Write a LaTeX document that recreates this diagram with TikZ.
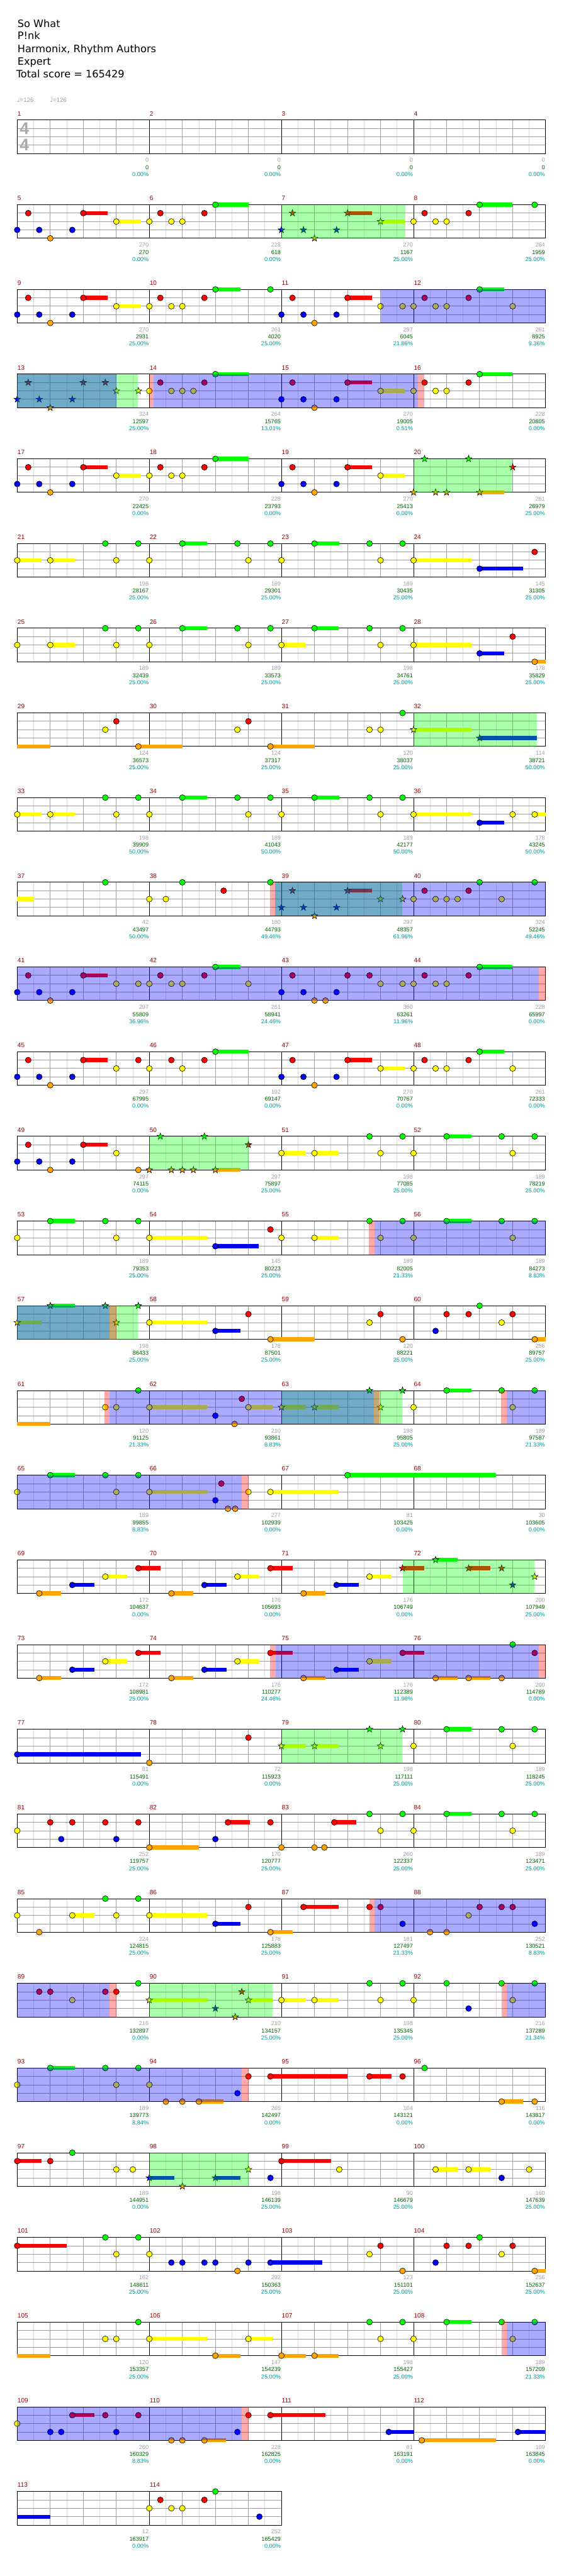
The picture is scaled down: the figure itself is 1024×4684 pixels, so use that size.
\documentclass[tikz,border=0pt]{standalone}
\usepackage{fontspec}
\setmainfont{DejaVu Sans}
\newfontfamily\numf{Liberation Sans}
\definecolor{c0}{RGB}{0,255,0}
\definecolor{c1}{RGB}{255,0,0}
\definecolor{c2}{RGB}{255,255,0}
\definecolor{c3}{RGB}{0,0,255}
\definecolor{c4}{RGB}{255,165,0}
\definecolor{griddark}{RGB}{160,160,160}
\definecolor{gridlight}{RGB}{221,221,221}
\definecolor{mnumcol}{RGB}{153,0,0}
\definecolor{sgray}{RGB}{160,160,160}
\definecolor{sgreen}{RGB}{0,100,0}
\definecolor{scyan}{RGB}{0,153,153}
\definecolor{tsgray}{RGB}{170,170,170}
\tikzset{
  nstroke/.style={draw=black,line width=0.7pt},
  gridd/.style={draw=griddark,line width=1pt},
  gridl/.style={draw=gridlight,line width=1pt},
  barline/.style={draw=black,line width=1pt},
  mnumst/.style={font=\numf\fontsize{11.5}{13}\selectfont,text=mnumcol,inner sep=0pt,anchor=base west},
  sgst/.style={font=\numf\fontsize{10.5}{12}\selectfont,inner sep=0pt,anchor=base east},
  titlest/.style={font=\fontsize{18.5}{22}\selectfont,inner sep=0pt,anchor=base west},
  tempost/.style={font=\numf\fontsize{11}{13}\selectfont,text=sgray,inner sep=0pt,anchor=base west},
  tsst/.style={font=\numf\bfseries\fontsize{30.5}{32}\selectfont,text=tsgray,inner sep=0pt},
  ovl/.style={fill opacity=0.333}
}
\newcommand\Setm[1]{\pgfmathtruncatemacro\mc{mod(#1-1,4)}\pgfmathtruncatemacro\mr{(#1-1)/4}\pgfmathsetmacro\mx{31.3+240*\mc}\pgfmathsetmacro\my{218.3+154*\mr}}
\newcommand\Nt[2]{\draw[nstroke,fill=c#2] ({\mx+60*#1},{\my+15.25*#2}) circle[radius=5.3];}
\newcommand\St[2]{\draw[nstroke,fill=c#2,shift={({\mx+60*#1},{\my+15.25*#2})}] (270:6.3) -- (306:2.5) -- (342:6.3) -- (18:2.5) -- (54:6.3) -- (90:2.5) -- (126:6.3) -- (162:2.5) -- (198:6.3) -- (234:2.5) -- cycle;}
\newcommand\Su[3]{\fill[c#2] ({\mx+60*#1},{\my+15.25*#2-3.6}) rectangle ({\mx+60*#3},{\my+15.25*#2+3.6});}
\newcommand\Ms[2]{\Setm{#1}#2}
\newcommand\Ov[4]{\Setm{#2}\fill[#1,ovl] ({\mx+60*#3},\my) rectangle ({\mx+60*#4},{\my+61});}
\newcommand\Sco[4]{\Setm{#1}%
  \node[mnumst] (mn#1) at ({\mx+0.5},{\my-7.6}) {#1};%
  \node[sgst,text=sgray] (sa#1) at ({\mx+239},{\my+76.7}) {#2};%
  \node[sgst,text=sgreen] (sb#1) at ({\mx+239},{\my+89.7}) {#3};%
  \node[sgst,text=scyan] (sc#1) at ({\mx+239},{\my+102.6}) {#4\%};}
\newcommand\Rowgrid[2]{%
  \pgfmathsetmacro\ry{218.3+154*#1}%
  \pgfmathsetmacro\rx{31.3+240*#2}%
  \pgfmathtruncatemacro\nb{4*#2}%
  \pgfmathtruncatemacro\nm{#2}%
  \foreach \k in {1,...,\nb}{\draw[gridl] ({31.3+60*\k-30},\ry) -- ++(0,61);}%
  \foreach \j in {1,2,3}{\draw[gridd] (31.3,{\ry+15.25*\j}) -- (\rx,{\ry+15.25*\j});}%
  \foreach \k in {1,...,\nb}{\draw[gridd] ({31.3+60*\k},\ry) -- ++(0,61);}%
  \foreach \k in {1,...,\nm}{\draw[barline] ({31.3+240*\k},\ry) -- ++(0,61);}%
  \draw[barline] (31.3,\ry) rectangle (\rx,{\ry+61});}
% patterns
\newcommand\PatA{\Su{2}{1}{2.74}\Su{3}{2}{3.74}\Nt{0}{3}\Nt{.333}{1}\Nt{.667}{3}\Nt{1}{4}\Nt{1.667}{3}\Nt{2}{1}\Nt{3}{2}}
\newcommand\PatB{\Su{2}{0}{3}\Nt{0}{2}\Nt{.333}{1}\Nt{.667}{2}\Nt{1}{2}\Nt{1.667}{1}\Nt{2}{0}}
\newcommand\PatBB{\Su{2}{0}{2.75}\Nt{0}{2}\Nt{.333}{1}\Nt{.667}{2}\Nt{1}{2}\Nt{1.667}{1}\Nt{2}{0}\Nt{3}{2}}
\newcommand\PatC{\Su{1}{0}{1.75}\Nt{0}{2}\Nt{1}{0}\Nt{2.667}{0}\Nt{3}{2}\Nt{3.667}{0}}
\newcommand\PatD{\Su{0}{2}{.74}\Su{1}{2}{1.74}\Nt{0}{2}\Nt{1}{2}\Nt{2.667}{0}\Nt{3}{2}\Nt{3.667}{0}}
\newcommand\PatF{\Su{1}{2}{1.74}\Nt{0}{2}\Nt{1}{2}\Nt{2.667}{0}\Nt{3}{2}\Nt{3.667}{0}}
\newcommand\PatT{\Su{.667}{4}{1.333}\Su{1.667}{3}{2.333}\Su{2.667}{2}{3.333}\Su{3.667}{1}{4.333}\Nt{.667}{4}\Nt{1.667}{3}\Nt{2.667}{2}\Nt{3.667}{1}}
\begin{document}
\begin{tikzpicture}[x=1pt,y=-1pt]
\useasboundingbox (0,0) rectangle (1024,4684);
\fill[white] (0,0) rectangle (1024,4684);
% header
\node[titlest] (t1) at (31.7,49.3) {So What};
\node[titlest] (t2) at (31.7,72) {P!nk};
\node[titlest] (t3) at (31.7,95.6) {Harmonix, Rhythm Authors};
\node[titlest] (t4) at (31.7,118) {Expert};
\node[titlest] (t5) at (29.3,141.6) {Total score = 165429};
\node[tempost] (tp1) at (30.5,185.3) {{\fontspec{DejaVu Sans}\fontsize{12}{13}\selectfont ♩}=126};
\node[tempost] (tp2) at (90.5,185.3) {{\fontspec{DejaVu Sans}\fontsize{12}{13}\selectfont ♩}=126};
% grids
\foreach \r in {0,...,27}{\Rowgrid{\r}{4}}
\Rowgrid{28}{2}
\node[tsst] (ts1) at (44.3,233.8) {4};
\node[tsst] (ts2) at (44.3,263.3) {4};
% notes
\Ms{5}{\PatA}
\Ms{6}{\PatB}
\Ms{7}{\Su{2}{1}{2.74}\Su{3}{2}{3.74}\St{0}{3}\St{.333}{1}\St{.667}{3}\St{1}{4}\St{1.667}{3}\St{2}{1}\St{3}{2}}
\Ms{8}{\PatB\Nt{3.667}{0}}
\Ms{9}{\PatA}
\Ms{10}{\Su{2}{0}{2.75}\Nt{0}{2}\Nt{.333}{1}\Nt{.667}{2}\Nt{1}{2}\Nt{1.667}{1}\Nt{2}{0}\Nt{3.667}{0}}
\Ms{11}{\Su{2}{1}{2.74}\Nt{0}{3}\Nt{.333}{1}\Nt{.667}{3}\Nt{1}{4}\Nt{1.667}{3}\Nt{2}{1}\Nt{3}{2}\Nt{3.667}{2}}
\Ms{12}{\PatBB}
\Ms{13}{\St{0}{3}\St{.333}{1}\St{.667}{3}\St{1}{4}\St{1.667}{3}\St{2}{1}\St{2.667}{1}\St{3}{2}\St{3.667}{2}}
\Ms{14}{\Su{2}{0}{3}\Nt{0}{2}\Nt{.333}{1}\Nt{.667}{2}\Nt{1}{2}\Nt{1.333}{2}\Nt{1.667}{1}\Nt{2}{0}}
\Ms{15}{\PatA}
\Ms{16}{\PatB}
\Ms{17}{\PatA}
\Ms{18}{\PatB}
\Ms{19}{\PatA}
\Ms{20}{\Su{2}{4}{2.75}\St{0}{4}\St{.333}{0}\St{.667}{4}\St{1}{4}\St{1.667}{0}\St{2}{4}\St{3}{1}}
\Ms{21}{\PatD}
\Ms{22}{\PatC}
\Ms{23}{\PatC}
\Ms{24}{\Su{0}{2}{1.75}\Su{2}{3}{3.32}\Nt{0}{2}\Nt{2}{3}\Nt{3.667}{1}}
\Ms{25}{\PatF}
\Ms{26}{\PatC}
\Ms{27}{\Su{0}{2}{.74}\Su{1}{0}{1.74}\Nt{0}{2}\Nt{1}{0}\Nt{2.667}{0}\Nt{3}{2}\Nt{3.667}{0}}
\Ms{28}{\Su{0}{2}{1.75}\Su{2}{3}{2.75}\Su{3.667}{4}{4}\Nt{0}{2}\Nt{2}{3}\Nt{3}{1}\Nt{3.667}{4}}
\Ms{29}{\Su{0}{4}{1}\Su{3.667}{4}{5}\Nt{2.667}{2}\Nt{3}{1}\Nt{3.667}{4}}
\Ms{30}{\Su{3.667}{4}{5}\Nt{2.667}{2}\Nt{3}{1}\Nt{3.667}{4}}
\Ms{31}{\Nt{2.667}{2}\Nt{3}{2}\Nt{3.667}{0}}
\Ms{32}{\Su{0}{2}{1.75}\Su{2}{3}{3.74}\St{0}{2}\St{2}{3}}
\Ms{33}{\PatD}
\Ms{34}{\PatC}
\Ms{35}{\PatC}
\Ms{36}{\Su{0}{2}{1.75}\Su{2}{3}{2.75}\Su{3.667}{2}{4}\Nt{0}{2}\Nt{2}{3}\Nt{3}{2}\Nt{3.667}{2}}
\Ms{37}{\Su{0}{2}{.5}\Nt{2.667}{0}}
\Ms{38}{\Nt{0}{2}\Nt{.5}{2}\Nt{1}{0}\Nt{2.25}{1}\Nt{3.667}{0}}
\Ms{39}{\Su{2}{1}{2.74}\St{0}{3}\St{.333}{1}\St{.667}{3}\St{1}{4}\St{1.667}{3}\St{2}{1}\St{3}{2}\St{3.667}{2}}
\Ms{40}{\Nt{0}{2}\Nt{.333}{1}\Nt{.667}{2}\Nt{1}{2}\Nt{1.333}{2}\Nt{1.667}{1}\Nt{2}{0}\Nt{2.667}{2}\Nt{3.667}{0}}
\Ms{41}{\Su{2}{1}{2.74}\Nt{0}{3}\Nt{.333}{1}\Nt{.667}{3}\Nt{1}{4}\Nt{1.667}{3}\Nt{2}{1}\Nt{3}{2}\Nt{3.667}{2}}
\Ms{42}{\PatBB}
\Ms{43}{\Nt{0}{3}\Nt{.333}{1}\Nt{.667}{3}\Nt{1}{4}\Nt{1.333}{4}\Nt{1.667}{3}\Nt{2}{1}\Nt{2.667}{1}\Nt{3}{2}\Nt{3.667}{2}}
\Ms{44}{\PatB}
\Ms{45}{\Su{2}{1}{2.74}\Nt{0}{3}\Nt{.333}{1}\Nt{.667}{3}\Nt{1}{4}\Nt{1.667}{3}\Nt{2}{1}\Nt{3}{2}\Nt{3.667}{1}}
\Ms{46}{\Su{2}{0}{3}\Nt{0}{2}\Nt{.667}{1}\Nt{1}{2}\Nt{1.667}{1}\Nt{2}{0}}
\Ms{47}{\PatA}
\Ms{48}{\PatBB}
\Ms{49}{\Su{2}{1}{2.74}\Nt{0}{3}\Nt{.333}{1}\Nt{.667}{3}\Nt{1}{4}\Nt{1.667}{3}\Nt{2}{1}\Nt{3}{2}\Nt{3.667}{4}}
\Ms{50}{\Su{2}{4}{2.75}\St{0}{4}\St{.333}{0}\St{.667}{4}\St{1}{4}\St{1.333}{4}\St{1.667}{0}\St{2}{4}\St{3}{1}}
\Ms{51}{\PatD}
\Ms{52}{\PatC}
\Ms{53}{\PatC}
\Ms{54}{\Su{0}{2}{1.75}\Su{2}{3}{3.32}\Nt{0}{2}\Nt{2}{3}\Nt{3.667}{1}}
\Ms{55}{\PatF}
\Ms{56}{\PatC}
\Ms{57}{\Su{0}{2}{.74}\Su{1}{0}{1.74}\St{0}{2}\St{1}{0}\St{2.667}{0}\St{3}{2}\St{3.667}{0}}
\Ms{58}{\Su{0}{2}{1.75}\Su{2}{3}{2.75}\Su{3.667}{4}{5}\Nt{0}{2}\Nt{2}{3}\Nt{3}{1}\Nt{3.667}{4}}
\Ms{59}{\Nt{2.667}{2}\Nt{3}{1}\Nt{3.667}{4}}
\Ms{60}{\Su{3.667}{4}{4}\Nt{.667}{3}\Nt{1}{1}\Nt{1.667}{1}\Nt{2}{0}\Nt{2.667}{2}\Nt{3}{1}\Nt{3.667}{4}}
\Ms{61}{\Su{0}{4}{1}\Nt{2.667}{2}\Nt{3}{2}\Nt{3.667}{0}}
\Ms{62}{\Su{0}{2}{1.75}\Su{3}{2}{3.74}\Nt{0}{2}\Nt{2}{3}\Nt{2.58}{4}\Nt{2.8}{1}\Nt{3}{2}}
\Ms{63}{\Su{0}{2}{.74}\Su{1}{2}{1.74}\St{0}{2}\St{1}{2}\St{2.667}{0}\St{3}{2}\St{3.667}{0}}
\Ms{64}{\PatC}
\Ms{65}{\PatC}
\Ms{66}{\Su{0}{2}{1.75}\Su{3.667}{2}{5.74}\Nt{0}{2}\Nt{2}{3}\Nt{2.18}{1}\Nt{2.38}{4}\Nt{2.6}{4}\Nt{3}{2}\Nt{3.667}{2}}
\Ms{67}{\Su{2}{0}{6.5}\Nt{2}{0}}
\Ms{69}{\PatT}
\Ms{70}{\PatT}
\Ms{71}{\Su{.667}{4}{1.333}\Su{1.667}{3}{2.333}\Su{2.667}{2}{3.333}\Su{3.667}{1}{4.333}\Nt{.667}{4}\Nt{1.667}{3}\Nt{2.667}{2}\St{3.667}{1}}
\Ms{72}{\Su{.667}{0}{1.333}\Su{1.667}{1}{2.333}\St{.667}{0}\St{1.667}{1}\St{2.667}{1}\St{3}{3}\St{3.667}{2}}
\Ms{73}{\PatT}
\Ms{74}{\PatT}
\Ms{75}{\PatT}
\Ms{76}{\Su{.667}{4}{1.333}\Su{1.667}{4}{2.333}\Nt{.667}{4}\Nt{1.667}{4}\Nt{2.667}{4}\Nt{3}{0}\Nt{3.667}{1}}
\Ms{77}{\Su{0}{3}{3.74}\Nt{0}{3}}
\Ms{78}{\Nt{0}{4}\Nt{3}{1}}
\Ms{79}{\Su{0}{2}{.74}\Su{1}{2}{1.74}\St{0}{2}\St{1}{2}\St{2.667}{0}\St{3}{2}\St{3.667}{0}}
\Ms{80}{\PatC}
\Ms{81}{\Nt{0}{2}\Nt{1}{1}\Nt{1.333}{3}\Nt{1.667}{1}\Nt{2.667}{1}\Nt{3}{3}\Nt{3.667}{1}}
\Ms{82}{\Su{0}{4}{1.5}\Su{2.38}{1}{3.04}\Nt{0}{4}\Nt{2}{3}\Nt{2.38}{1}\Nt{3.667}{1}}
\Ms{83}{\Su{1.6}{1}{2.26}\Nt{0}{4}\Nt{1}{4}\Nt{1.3}{4}\Nt{1.6}{1}\Nt{2.667}{0}\Nt{3}{2}\Nt{3.667}{0}}
\Ms{84}{\PatC}
\Ms{85}{\Su{1.667}{2}{2.333}\Nt{0}{2}\Nt{.667}{4}\Nt{1.667}{2}\Nt{2.667}{0}\Nt{3}{2}\Nt{3.667}{0}}
\Ms{86}{\Su{0}{2}{1.75}\Su{2}{3}{2.75}\Su{3.667}{4}{4.333}\Nt{0}{2}\Nt{2}{3}\Nt{3}{1}\Nt{3.667}{4}}
\Ms{87}{\Su{.667}{1}{1.74}\Nt{.667}{1}\Nt{2.667}{1}\Nt{3}{1}\Nt{3.667}{3}}
\Ms{88}{\Nt{.5}{4}\Nt{1}{4}\Nt{1.667}{2}\Nt{2}{1}\Nt{2.667}{1}\Nt{3}{1}\Nt{3.667}{3}}
\Ms{89}{\Nt{.667}{1}\Nt{1}{1}\Nt{1.667}{2}\Nt{2.667}{1}\Nt{3}{1}\Nt{3.667}{0}}
\Ms{90}{\Su{0}{2}{1.75}\Su{3}{2}{3.74}\St{0}{2}\St{2}{3}\St{2.6}{4}\St{2.8}{1}\St{3}{2}}
\Ms{91}{\PatD}
\Ms{92}{\Nt{0}{2}\Nt{1}{0}\Nt{1.667}{3}\Nt{2.667}{0}\Nt{3}{2}\Nt{3.667}{0}}
\Ms{93}{\PatC}
\Ms{94}{\Su{1.5}{4}{2.25}\Su{3.667}{1}{6}\Nt{0}{2}\Nt{.5}{4}\Nt{1}{4}\Nt{1.5}{4}\Nt{2.667}{3}\Nt{3}{1}\Nt{3.667}{1}}
\Ms{95}{\Su{2.667}{1}{3.333}\Nt{2.667}{1}\Nt{3.667}{1}}
\Ms{96}{\Su{2.667}{4}{3.32}\Nt{.333}{0}\Nt{2.667}{4}\Nt{3.667}{4}}
\Ms{97}{\Su{0}{1}{.74}\Nt{0}{1}\Nt{1}{1}\Nt{1.667}{0}\Nt{3}{2}\Nt{3.5}{2}}
\Ms{98}{\Su{0}{3}{.75}\Su{2}{3}{2.75}\St{0}{3}\St{1}{4}\St{2}{3}\St{3}{2}\Nt{3.667}{3}}
\Ms{99}{\Su{0}{1}{1.5}\Nt{0}{1}\Nt{1.75}{2}}
\Ms{100}{\Su{.667}{2}{1.333}\Su{1.667}{2}{2.333}\Nt{.667}{2}\Nt{1.667}{2}\Nt{2.667}{3}\Nt{3.5}{2}}
\Ms{101}{\Su{0}{1}{1.5}\Nt{0}{1}\Nt{2.667}{0}\Nt{3}{2}\Nt{3.667}{0}}
\Ms{102}{\Su{3.667}{3}{5.24}\Nt{0}{2}\Nt{.667}{3}\Nt{1}{3}\Nt{1.667}{3}\Nt{2}{3}\Nt{2.667}{4}\Nt{3}{3}\Nt{3.667}{3}}
\Ms{103}{\Nt{2.667}{2}\Nt{3}{1}\Nt{3.667}{4}}
\Ms{104}{\Su{3.667}{4}{4}\Nt{.667}{3}\Nt{1}{1}\Nt{1.667}{1}\Nt{2}{0}\Nt{2.667}{2}\Nt{3}{1}\Nt{3.667}{4}}
\Ms{105}{\Su{0}{4}{1}\Nt{2.667}{2}\Nt{3}{2}\Nt{3.667}{0}}
\Ms{106}{\Su{0}{2}{1.75}\Su{2}{4}{2.75}\Su{3}{2}{3.74}\Nt{0}{2}\Nt{2}{4}\Nt{3}{2}}
\Ms{107}{\Su{0}{4}{.74}\Su{1}{4}{1.74}\Nt{0}{4}\Nt{1}{4}\Nt{2.667}{0}\Nt{3}{2}\Nt{3.667}{0}}
\Ms{108}{\PatC}
\Ms{109}{\Su{1.667}{1}{2.333}\Nt{0}{2}\Nt{1}{3}\Nt{1.333}{3}\Nt{1.667}{1}\Nt{2.667}{1}\Nt{3}{3}\Nt{3.667}{1}}
\Ms{110}{\Su{1.667}{4}{2.32}\Su{3.667}{1}{5.333}\Nt{.667}{4}\Nt{1}{4}\Nt{1.667}{4}\Nt{2.667}{3}\Nt{3}{1}\Nt{3.667}{1}}
\Ms{111}{\Su{3.25}{3}{4}\Nt{3.25}{3}}
\Ms{112}{\Su{.25}{4}{2.5}\Su{3.16}{3}{4}\Nt{.25}{4}\Nt{3.16}{3}}
\Ms{113}{\Su{0}{3}{1}}
\Ms{114}{\Nt{0}{2}\Nt{.333}{1}\Nt{.667}{2}\Nt{1}{2}\Nt{1.667}{1}\Nt{2}{0}\Nt{3.333}{3}}
% overlays: green
\Ov{green}{7}{0}{3.75}
\Ov{green}{13}{0}{3.65}
\Ov{green}{20}{0}{3}
\Ov{green}{32}{0}{3.74}
\Ov{green}{38}{3.815}{7.65}
\Ov{green}{50}{0}{3}
\Ov{green}{57}{0}{3.65}
\Ov{green}{63}{0}{3.65}
\Ov{green}{71}{3.667}{7.66}
\Ov{green}{79}{0}{3.65}
\Ov{green}{90}{0}{3.74}
\Ov{green}{98}{0}{3}
% overlays: blue
\Ov{blue}{11}{3}{8}
\Ov{blue}{13}{0}{3}
\Ov{blue}{14}{.133}{8.14}
\Ov{blue}{38}{3.815}{12}
\Ov{blue}{41}{0}{15.8}
\Ov{blue}{55}{2.81}{8}
\Ov{blue}{57}{0}{2.8}
\Ov{blue}{61}{2.8}{10.8}
\Ov{blue}{64}{2.82}{4}
\Ov{blue}{65}{0}{6.8}
\Ov{blue}{74}{3.82}{11.8}
\Ov{blue}{87}{2.81}{8}
\Ov{blue}{89}{0}{2.8}
\Ov{blue}{92}{2.82}{4}
\Ov{blue}{93}{0}{6.8}
\Ov{blue}{108}{2.82}{4}
\Ov{blue}{109}{0}{6.8}
% overlays: red
\Ov{red}{14}{0}{.133}
\Ov{red}{16}{.14}{.33}
\Ov{red}{38}{3.65}{3.815}
\Ov{red}{44}{3.8}{4}
\Ov{red}{55}{2.65}{2.81}
\Ov{red}{57}{2.8}{3}
\Ov{red}{61}{2.65}{2.8}
\Ov{red}{63}{2.8}{2.98}
\Ov{red}{64}{2.65}{2.82}
\Ov{red}{66}{2.8}{3}
\Ov{red}{74}{3.66}{3.82}
\Ov{red}{76}{3.8}{4}
\Ov{red}{87}{2.67}{2.81}
\Ov{red}{89}{2.8}{3}
\Ov{red}{92}{2.66}{2.82}
\Ov{red}{94}{2.8}{3}
\Ov{red}{108}{2.66}{2.82}
\Ov{red}{110}{2.8}{3}
% measure numbers and scores
\Sco{1}{0}{0}{0.00}\Sco{2}{0}{0}{0.00}\Sco{3}{0}{0}{0.00}\Sco{4}{0}{0}{0.00}
\Sco{5}{270}{270}{0.00}\Sco{6}{228}{618}{0.00}\Sco{7}{270}{1167}{25.00}\Sco{8}{264}{1959}{25.00}
\Sco{9}{270}{2931}{25.00}\Sco{10}{261}{4020}{25.00}\Sco{11}{297}{6045}{21.86}\Sco{12}{261}{8925}{9.36}
\Sco{13}{324}{12597}{25.00}\Sco{14}{264}{15765}{13.01}\Sco{15}{270}{19005}{0.51}\Sco{16}{228}{20805}{0.00}
\Sco{17}{270}{22425}{0.00}\Sco{18}{228}{23793}{0.00}\Sco{19}{270}{25413}{0.00}\Sco{20}{261}{26979}{25.00}
\Sco{21}{198}{28167}{25.00}\Sco{22}{189}{29301}{25.00}\Sco{23}{189}{30435}{25.00}\Sco{24}{145}{31305}{25.00}
\Sco{25}{189}{32439}{25.00}\Sco{26}{189}{33573}{25.00}\Sco{27}{198}{34761}{25.00}\Sco{28}{178}{35829}{25.00}
\Sco{29}{124}{36573}{25.00}\Sco{30}{124}{37317}{25.00}\Sco{31}{120}{38037}{25.00}\Sco{32}{114}{38721}{50.00}
\Sco{33}{198}{39909}{50.00}\Sco{34}{189}{41043}{50.00}\Sco{35}{189}{42177}{50.00}\Sco{36}{178}{43245}{50.00}
\Sco{37}{42}{43497}{50.00}\Sco{38}{180}{44793}{49.46}\Sco{39}{297}{48357}{61.96}\Sco{40}{324}{52245}{49.46}
\Sco{41}{297}{55809}{36.96}\Sco{42}{261}{58941}{24.46}\Sco{43}{360}{63261}{11.96}\Sco{44}{228}{65997}{0.00}
\Sco{45}{297}{67995}{0.00}\Sco{46}{192}{69147}{0.00}\Sco{47}{270}{70767}{0.00}\Sco{48}{261}{72333}{0.00}
\Sco{49}{297}{74115}{0.00}\Sco{50}{297}{75897}{25.00}\Sco{51}{198}{77085}{25.00}\Sco{52}{189}{78219}{25.00}
\Sco{53}{189}{79353}{25.00}\Sco{54}{145}{80223}{25.00}\Sco{55}{189}{82005}{21.33}\Sco{56}{189}{84273}{8.83}
\Sco{57}{198}{86433}{25.00}\Sco{58}{178}{87501}{25.00}\Sco{59}{120}{88221}{25.00}\Sco{60}{256}{89757}{25.00}
\Sco{61}{120}{91125}{21.33}\Sco{62}{210}{93861}{8.83}\Sco{63}{198}{95805}{25.00}\Sco{64}{189}{97587}{21.33}
\Sco{65}{189}{99855}{8.83}\Sco{66}{277}{102939}{0.00}\Sco{67}{81}{103425}{0.00}\Sco{68}{30}{103605}{0.00}
\Sco{69}{172}{104637}{0.00}\Sco{70}{176}{105693}{0.00}\Sco{71}{176}{106749}{0.00}\Sco{72}{200}{107949}{25.00}
\Sco{73}{172}{108981}{25.00}\Sco{74}{176}{110277}{24.46}\Sco{75}{176}{112389}{11.96}\Sco{76}{200}{114789}{0.00}
\Sco{77}{81}{115491}{0.00}\Sco{78}{72}{115923}{0.00}\Sco{79}{198}{117111}{25.00}\Sco{80}{189}{118245}{25.00}
\Sco{81}{252}{119757}{25.00}\Sco{82}{170}{120777}{25.00}\Sco{83}{260}{122337}{25.00}\Sco{84}{189}{123471}{25.00}
\Sco{85}{224}{124815}{25.00}\Sco{86}{178}{125883}{25.00}\Sco{87}{161}{127497}{21.33}\Sco{88}{252}{130521}{8.83}
\Sco{89}{216}{132897}{0.00}\Sco{90}{210}{134157}{25.00}\Sco{91}{198}{135345}{25.00}\Sco{92}{216}{137289}{21.34}
\Sco{93}{189}{139773}{8.84}\Sco{94}{265}{142497}{0.00}\Sco{95}{104}{143121}{0.00}\Sco{96}{116}{143817}{0.00}
\Sco{97}{189}{144951}{0.00}\Sco{98}{198}{146139}{25.00}\Sco{99}{90}{146679}{25.00}\Sco{100}{160}{147639}{25.00}
\Sco{101}{162}{148611}{25.00}\Sco{102}{292}{150363}{25.00}\Sco{103}{123}{151101}{25.00}\Sco{104}{256}{152637}{25.00}
\Sco{105}{120}{153357}{25.00}\Sco{106}{147}{154239}{25.00}\Sco{107}{198}{155427}{25.00}\Sco{108}{189}{157209}{21.33}
\Sco{109}{260}{160329}{8.83}\Sco{110}{228}{162825}{0.00}\Sco{111}{61}{163191}{0.00}\Sco{112}{109}{163845}{0.00}
\Sco{113}{12}{163917}{0.00}\Sco{114}{252}{165429}{0.00}
\end{tikzpicture}
\end{document}
